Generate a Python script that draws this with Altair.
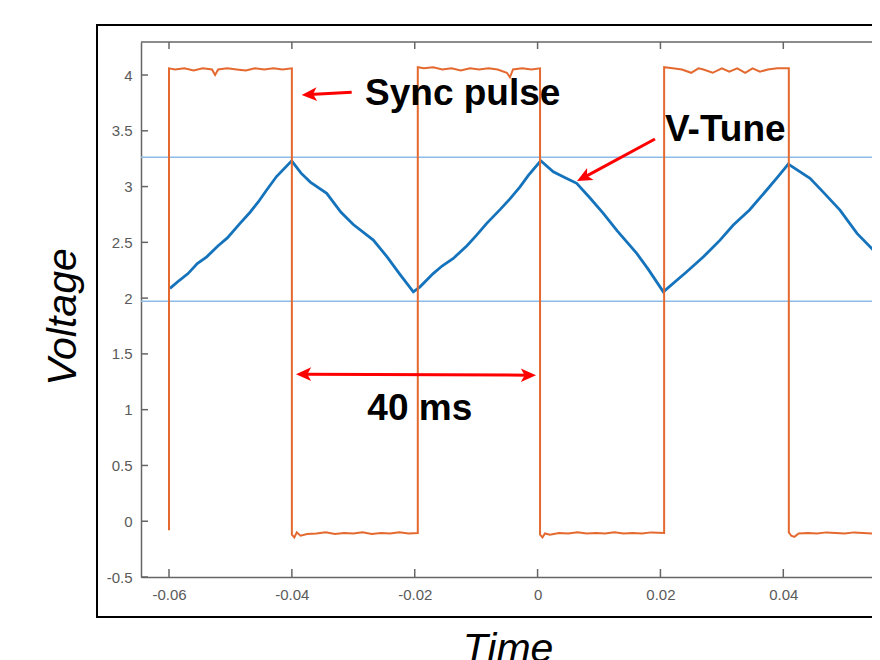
import altair as alt
import pandas as pd

# ---------------- data ----------------
x_ticks = [-0.06, -0.04, -0.02, 0.0, 0.02, 0.04]
y_ticks = [-0.5, 0.0, 0.5, 1.0, 1.5, 2.0, 2.5, 3.0, 3.5, 4.0]

# V-Tune (blue triangle-like wave)
vtune_t = [-0.05984, -0.0583, -0.05690, -0.05540, -0.05386, -0.0520, -0.0505, -0.04844, -0.0468,
           -0.0455, -0.04410, -0.0425, -0.04003,
           -0.0385, -0.0370, -0.03433, -0.0320, -0.0300, -0.02674, -0.0245, -0.0225, -0.02023,
           -0.01914, -0.0170, -0.0155, -0.01372, -0.0115, -0.0100, -0.00828, -0.0060, -0.0045,
           -0.00286, -0.0015, 0.00051,
           0.00256, 0.00450, 0.00637, 0.0085, 0.01070, 0.0130, 0.01614, 0.0180, 0.02047,
           0.02428, 0.0270, 0.02970, 0.03186, 0.0345, 0.03730, 0.0390, 0.04081,
           0.04435, 0.0465, 0.04923, 0.0520, 0.05574]
vtune_v = [2.087, 2.16, 2.22, 2.31, 2.370, 2.47, 2.54, 2.670, 2.77,
           2.86, 2.969, 3.09, 3.231,
           3.12, 3.04, 2.939, 2.77, 2.66, 2.520, 2.37, 2.22, 2.056,
           2.101, 2.22, 2.29, 2.356, 2.47, 2.56, 2.670, 2.80, 2.89,
           2.998, 3.10, 3.231,
           3.133, 3.08, 3.029, 2.90, 2.760, 2.60, 2.401, 2.26, 2.056,
           2.236, 2.37, 2.520, 2.655, 2.79, 2.969, 3.08, 3.202,
           3.074, 2.95, 2.789, 2.58, 2.370]

# Sync pulse (orange square wave)
sync_t = [-0.0600, -0.0600, -0.0590, -0.0575, -0.0560, -0.0545, -0.0530, -0.0525, -0.0520,
          -0.0505, -0.0490, -0.0475, -0.0460, -0.0445, -0.0430, -0.0415, -0.0400,
          -0.0400, -0.0396, -0.0392, -0.0386, -0.0375, -0.0360, -0.0345, -0.0330, -0.0315,
          -0.0300, -0.0285, -0.0270, -0.0255, -0.0240, -0.0225, -0.0210, -0.0195,
          -0.0195, -0.0185, -0.0170, -0.0155, -0.0140, -0.0125, -0.0110, -0.0095, -0.0080,
          -0.0065, -0.0050, -0.0045, -0.0040, -0.0025, -0.0010, 0.0004,
          0.0004, 0.0008, 0.0012, 0.0020, 0.0035, 0.0050, 0.0065, 0.0080, 0.0095, 0.0110,
          0.0125, 0.0140, 0.0155, 0.0170, 0.0185, 0.0206,
          0.0206, 0.0220, 0.0235, 0.0250, 0.0262, 0.0270, 0.0285, 0.0300, 0.0312, 0.0325,
          0.0338, 0.0350, 0.0362, 0.0375, 0.0390, 0.0409,
          0.0409, 0.0413, 0.0418, 0.0425, 0.0440, 0.0455, 0.0470, 0.0485, 0.0500, 0.0515,
          0.0530, 0.0545, 0.0560]
sync_v = [-0.081, 4.06, 4.05, 4.06, 4.04, 4.06, 4.05, 4.00, 4.05,
          4.06, 4.05, 4.04, 4.06, 4.05, 4.06, 4.05, 4.06,
          -0.12, -0.145, -0.10, -0.13, -0.115, -0.11, -0.10, -0.115, -0.105,
          -0.11, -0.10, -0.115, -0.105, -0.11, -0.10, -0.11, -0.105,
          4.07, 4.06, 4.07, 4.05, 4.06, 4.04, 4.06, 4.05, 4.06,
          4.05, 4.02, 3.98, 4.05, 4.06, 4.05, 4.06,
          -0.12, -0.145, -0.11, -0.12, -0.105, -0.11, -0.10, -0.11, -0.105, -0.11,
          -0.10, -0.11, -0.105, -0.11, -0.10, -0.105,
          4.07, 4.06, 4.05, 4.02, 4.06, 4.05, 4.02, 4.06, 4.03, 4.06,
          4.02, 4.06, 4.03, 4.05, 4.06, 4.06,
          -0.10, -0.13, -0.14, -0.11, -0.105, -0.11, -0.10, -0.105, -0.11, -0.10,
          -0.105, -0.11, -0.105]

ref_levels = [3.263, 1.973]

# annotations (data coordinates)
ann_text = ["Sync pulse", "V-Tune", "40 ms"]
ann_t = [-0.02809, 0.02074, -0.02772]
ann_v = [3.731, 3.408, 0.906]

shaft_t1 = [-0.03026, 0.01911, -0.03802]
shaft_v1 = [3.845, 3.426, 1.318]
shaft_t2 = [-0.03710, 0.00756, -0.00156]
shaft_v2 = [3.826, 3.083, 1.309]

head_t = [-0.03840, 0.00642, -0.03933, -0.000256]
head_v = [3.821, 3.049, 1.318, 1.309]
head_angle = [176.9, 151.7, 180.0, 0.0]

# ---------------- chart ----------------
W, H = 731, 535
XDOM = [-0.06456, 0.05444]
YDOM = [-0.5, 4.296]
xs = alt.Scale(domain=XDOM, nice=False, zero=False)
ys = alt.Scale(domain=YDOM, nice=False, zero=False)
GRAY = "#666666"
FONT = "Liberation Sans"

XAXIS = alt.Axis(values=x_ticks, format=".2~f", labelExpr="replace(datum.label, '−', '-')",
                 ticks=False, grid=False, domainColor=GRAY, domainWidth=1.5, title="",
                 labelFont=FONT, labelFontSize=15, labelColor="#5a5a5a", labelPadding=10)
YAXIS = alt.Axis(values=y_ticks, format=".1~f", labelExpr="replace(datum.label, '−', '-')",
                 ticks=False, grid=False, domainColor=GRAY, domainWidth=1.5, title="",
                 labelFont=FONT, labelFontSize=15, labelColor="#5a5a5a", labelPadding=9)


def X(f):
    return alt.X(f, scale=xs, axis=XAXIS)


def Y(f):
    return alt.Y(f, scale=ys, axis=YAXIS)


vt = pd.DataFrame({"t": vtune_t, "v": vtune_v})
sy = pd.DataFrame({"t": sync_t, "v": sync_v, "idx": list(range(len(sync_t)))})
refs = pd.DataFrame({"v": ref_levels})
one = pd.DataFrame({"a": [0]})
xt = pd.DataFrame({"t": x_ticks})
yt = pd.DataFrame({"v": y_ticks})
ann = pd.DataFrame({"label": ann_text, "t": ann_t, "v": ann_v})
shafts = pd.DataFrame({"t1": shaft_t1, "v1": shaft_v1, "t2": shaft_t2, "v2": shaft_v2})
heads = pd.DataFrame({"t": head_t, "v": head_v, "ang": head_angle})

vt_line = alt.Chart(vt).mark_line(color="#1573BC", strokeWidth=2.8, clip=True).encode(
    x=X("t:Q"), y=Y("v:Q"))

sync_line = alt.Chart(sy).mark_line(color="#E4692F", strokeWidth=2, clip=True).encode(
    x=X("t:Q"), y=Y("v:Q"), order="idx:Q")

ref_rules = alt.Chart(refs).mark_rule(color="#8DBBE8", strokeWidth=1.5).encode(y=Y("v:Q"))

frame = alt.Chart(one).mark_rect(fill="transparent", stroke="black", strokeWidth=2).encode(
    x=alt.value(-44), x2=alt.value(W + 60), y=alt.value(-17), y2=alt.value(575))

top_border = alt.Chart(one).mark_rule(color=GRAY, strokeWidth=1.5).encode(
    x=alt.value(0), x2=alt.value(W + 20), y=alt.value(0))

left_ticks = alt.Chart(yt).mark_rule(color=GRAY, strokeWidth=1.5).encode(
    y=Y("v:Q"), x=alt.value(0), x2=alt.value(7))
bottom_ticks = alt.Chart(xt).mark_rule(color=GRAY, strokeWidth=1.5).encode(
    x=X("t:Q"), y=alt.value(H), y2=alt.value(H - 8))
top_ticks = alt.Chart(xt).mark_rule(color=GRAY, strokeWidth=1.5).encode(
    x=X("t:Q"), y=alt.value(0), y2=alt.value(7))

arrow_shafts = alt.Chart(shafts).mark_rule(color="#FF0000", strokeWidth=3).encode(
    x=X("t1:Q"), x2="t2:Q", y=Y("v1:Q"), y2="v2:Q")

arrow_heads = alt.Chart(heads).mark_point(
    shape="M0,0 L-2,-0.9 L-1.5,0 L-2,0.9 Z", filled=True, color="#FF0000",
    opacity=1, size=230, strokeWidth=0).encode(
    x=X("t:Q"), y=Y("v:Q"), angle=alt.Angle("ang:Q", scale=None))

ann_text_layer = alt.Chart(ann).mark_text(
    font=FONT, fontSize=37, fontWeight="bold", color="black", align="left", baseline="alphabetic").encode(
    x=X("t:Q"), y=Y("v:Q"), text="label:N")

ytitle = alt.Chart(one).mark_text(
    text="Voltage", font=FONT, fontSize=41, fontStyle="italic", color="black",
    angle=270, align="center", baseline="alphabetic").encode(
    x=alt.value(-65), y=alt.value(275))

xtitle = alt.Chart(one).mark_text(
    text="Time", font=FONT, fontSize=41, fontStyle="italic", color="black",
    align="center", baseline="alphabetic").encode(
    x=alt.value(367), y=alt.value(620))

chart = alt.layer(
    vt_line, frame, top_border, ref_rules, sync_line,
    left_ticks, bottom_ticks, top_ticks,
    arrow_shafts, arrow_heads, ann_text_layer, ytitle, xtitle,
).properties(
    width=W, height=H,
    padding={"left": 133, "top": 34, "right": 0, "bottom": 91},
    autosize=alt.AutoSizeParams(type="none"),
    background="white",
).configure_view(stroke="transparent")

chart.save("out.html", embed_options={"renderer": "svg", "actions": False})
